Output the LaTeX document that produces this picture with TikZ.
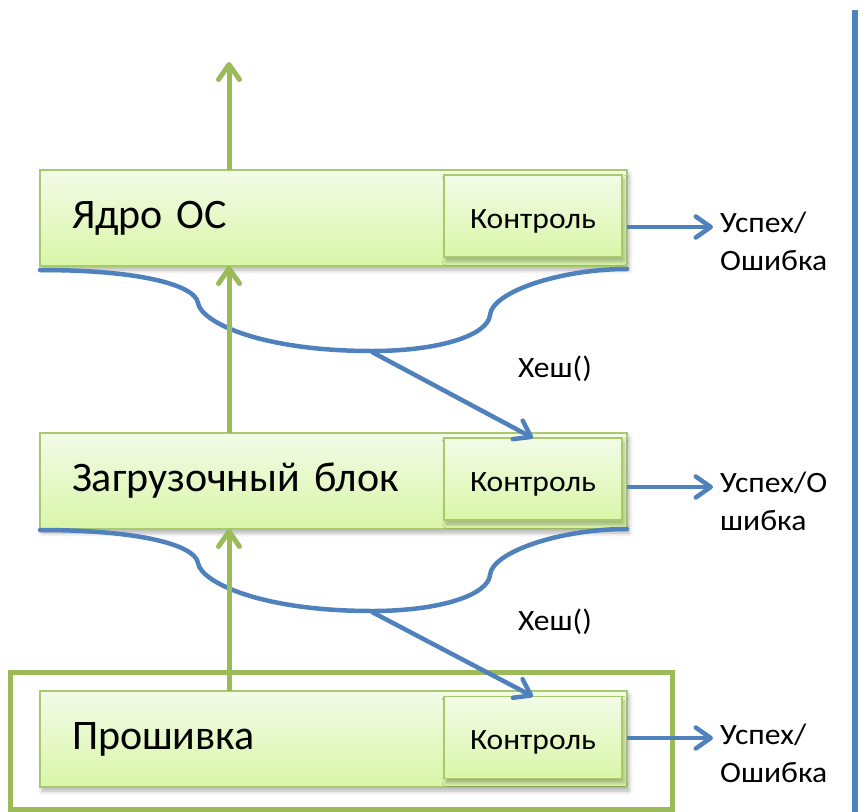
\documentclass[tikz,border=0pt]{standalone}
\usepackage{fontspec}
\setmainfont[FakeStretch=1.07]{Carlito}
\newfontfamily\layerfont{Carlito}
\usetikzlibrary{arrows.meta,shadows.blur}

\definecolor{leaf}{HTML}{9BBB59}
\definecolor{leafline}{HTML}{A9C96E}
\definecolor{steel}{HTML}{4F81BD}
\definecolor{filltop}{HTML}{F3FBE7}
\definecolor{fillbot}{HTML}{D9F6A8}

\begin{document}
\begin{tikzpicture}[x=1pt,y=-1pt,
  softshadow/.style={blur shadow={shadow xshift=2pt,shadow yshift=-4pt,shadow blur radius=4pt,shadow opacity=30}},
  layer/.style={draw=leafline, line width=1.5pt, top color=filltop, bottom color=fillbot,
    outer sep=0pt, minimum width=587pt, minimum height=96pt, inner xsep=32pt, inner ysep=0pt,
    text width=523pt, align=left, font=\layerfont\fontsize{42}{48}\selectfont, softshadow},
  checkbox/.style={draw=leafline, line width=1.5pt, top color=filltop, bottom color=fillbot,
    outer sep=0pt, inner sep=0pt, minimum width=178pt, minimum height=82pt,
    text height=26pt, text depth=2pt,
    font=\fontsize{29.5}{34}\selectfont, softshadow},
  romframe/.style={draw=leaf, line width=5pt, outer sep=0pt, inner sep=0pt},
  result/.style={inner xsep=7pt, inner ysep=0pt, align=left, font=\fontsize{29.5}{38}\selectfont},
  hashlabel/.style={inner sep=0pt, font=\fontsize{29.5}{34}\selectfont},
  brace/.style={draw=steel, line width=4.5pt, line cap=round},
  bluearrow/.style={draw=steel, line width=4.5pt, -{Straight Barb[length=15pt,width=21pt,round]}},
  greenarrow/.style={draw=leaf, line width=5pt, -{Straight Barb[length=15pt,width=21pt,round]}}
]
\useasboundingbox (0,0) rectangle (866,811);

% frame around the firmware layer
\node[romframe, anchor=north west, minimum width=662pt, minimum height=137pt] (rom) at (10,672) {};

% the three boot layers and their check blocks
\node[layer, anchor=north west] (kern) at (40,170) {Ядро ОС};
\node[checkbox] (kernc) at (533,216) {Контроль};
\node[layer, anchor=north west] (boot) at (40,433) {Загрузочный блок};
\node[checkbox] (bootc) at (533,479) {Контроль};
\node[layer, anchor=north west] (fw) at (40,691) {Прошивка};
\node[checkbox] (fwc) at (533,737.5) {Контроль};

% braces under the upper two layers
\foreach \dy/\tipname in {0/hashA,260/hashB}{
  \begin{scope}[shift={(0,\dy)}]
    \draw[brace] (40,270) .. controls (140,270) and (195,285) .. (198,303)
      .. controls (201,322) and (260,351) .. (372,351)
      .. controls (440,351) and (488,335) .. (490,315)
      .. controls (492,292) and (560,269) .. (627,269);
    \coordinate (\tipname) at (372,352);
  \end{scope}
}

% hash arrows into the check blocks
\draw[bluearrow] (hashA) -- (bootc.north);
\draw[bluearrow] (hashB) -- (fwc.north);
\node[hashlabel, anchor=base] (hlA) at (555,377) {Хеш()};
\node[hashlabel, anchor=base] (hlB) at (555,630) {Хеш()};

% load sequence
\coordinate (spine) at (229,0);
\coordinate (topend) at (229,62);
\draw[greenarrow] (fw.north -| spine) -- (boot.south -| spine);
\draw[greenarrow] (boot.north -| spine) -- (kern.south -| spine);
\draw[greenarrow] (kern.north -| spine) -- (topend);

% check results (base anchor sits on the last line)
\node[result, anchor=base west] (resA) at (713,270) {Успех/\\Ошибка};
\node[result, anchor=base west] (resB) at (713,530) {Успех/О\\шибка};
\node[result, anchor=base west] (resC) at (713,782) {Успех/\\Ошибка};
\draw[bluearrow] ([yshift=-9pt]kern.east) -- ([yshift=-9pt]kern.east -| resA.west);
\draw[bluearrow] ([yshift=-6pt]boot.east) -- ([yshift=-6pt]boot.east -| resB.west);
\draw[bluearrow] ([yshift=1pt]fw.east) -- ([yshift=1pt]fw.east -| resC.west);

% divider on the right
\coordinate (divtop) at (855,10);
\coordinate (divbot) at (855,815);
\draw[steel, line width=5.5pt] (divtop) -- (divbot);
\end{tikzpicture}
\end{document}
